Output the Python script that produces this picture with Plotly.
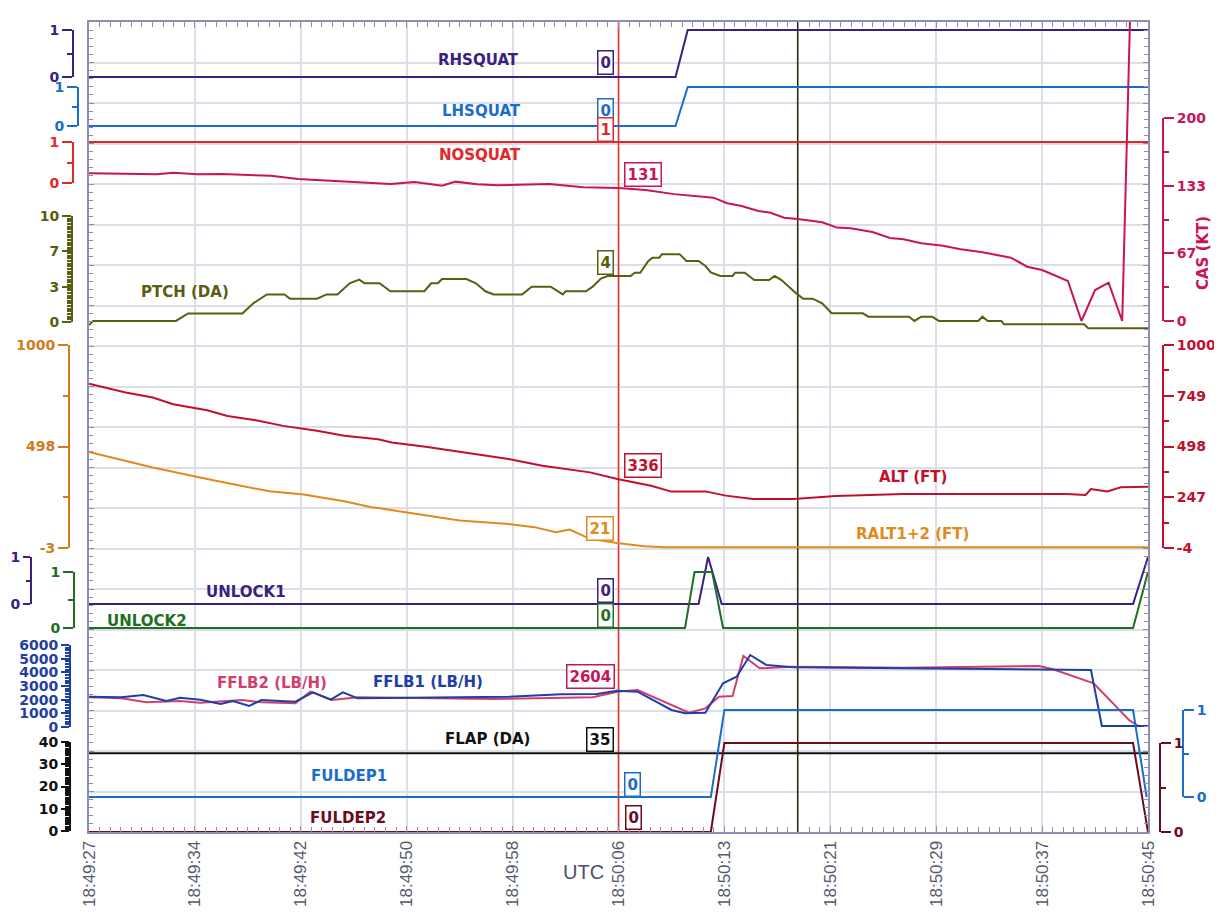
import plotly.graph_objects as go

# ---------------- canvas / frame geometry (screen pixels) ----------------
W, H = 1222, 918
OFF = 8                      # page body margin in the browser
FW, FH = W - OFF, H - OFF    # figure size
PL, PR, PT, PB = 89, 1148, 22, 832   # plot frame in screen pixels


def xp(px):
    return (px - OFF) / FW


def yp(py):
    return (PB - py) / (PB - PT)


# ---------------- time axis ----------------
TIME_LABELS = ["18:49:27", "18:49:34", "18:49:42", "18:49:50", "18:49:58", "18:50:06",
               "18:50:13", "18:50:21", "18:50:29", "18:50:37", "18:50:45"]
SPAN = 78.0  # seconds from 18:49:27 to 18:50:45
TICK_STEP = SPAN / 10
CURSOR_RED = 39.0     # 18:50:06
CURSOR_BLACK = 52.2

# ---------------- data (seconds since 18:49:27) ----------------
SQUAT_T = [0, 43.2, 44.1, 78]
RHSQUAT = [0, 0, 1, 1]
LHSQUAT = [0, 0, 1, 1]
NOSQUAT_T = [0, 78]
NOSQUAT = [1, 1]

CAS_T = [0, 5, 6.2, 8, 9.8, 13.4, 15.4, 18.2, 20.2, 22.2, 24, 26, 27, 28.6, 30.1, 33.9, 36.4, 39,
         41, 43.1, 46, 47, 48, 49.3, 50.2, 51.2, 52.2, 54, 55.1, 56.1, 57.7, 59, 60, 61.3, 62.9,
         64.2, 65.7, 67, 67.9, 69.1, 70.2, 71.2, 72.1, 73.1, 74.1, 75.1, 76.1, 76.7]
CAS = [145.5, 144.5, 146, 144.5, 144.8, 143, 140, 138.2, 136.3, 135, 137, 133.3, 137.3, 134.7,
       133.7, 135, 131.7, 131, 129, 125, 121.5, 116, 113.6, 108.4, 106.7, 101.8, 100.5, 97.2, 92,
       91.3, 87.7, 81.8, 80.5, 76.6, 74.2, 70.6, 68, 65, 62.4, 53.5, 50.2, 44.6, 39.4, 0, 30.5,
       37.7, 0, 310]

PTCH_T = [0, 0.3, 6.4, 6.9, 7.3, 11.3, 12.1, 13.1, 14.4, 14.8, 16.8, 17.5, 18.3, 19.2, 19.9,
          20.3, 21.4, 22.2, 24.7, 25.2, 25.7, 26.0, 27.8, 28.5, 29.2, 29.8, 31.9, 32.6, 34.0,
          34.9, 35.1, 36.6, 37.1, 37.7, 38.2, 39.9, 40.2, 40.6, 41.2, 41.5, 42.0, 42.2, 43.5,
          44.0, 44.9, 45.4, 45.8, 46.5, 47.4, 47.6, 48.3, 49.0, 50.1, 50.5, 51.0, 52.1, 52.6,
          53.3, 54.0, 54.7, 57.0, 57.4, 60.4, 60.8, 61.3, 62.1, 62.6, 65.5, 65.8, 66.2, 67.2,
          67.4, 73.3, 73.6, 78]
PTCH = [-0.3, 0.1, 0.1, 0.5, 0.8, 0.8, 1.76, 2.6, 2.6, 2.2, 2.2, 2.6, 2.6, 3.65, 4.0,
        3.65, 3.65, 2.9, 2.9, 3.65, 3.65, 4.05, 4.05, 3.65, 2.9, 2.6, 2.6, 3.33, 3.33,
        2.6, 2.9, 2.9, 3.33, 4.1, 4.34, 4.34, 4.65, 4.65, 5.75, 6.07, 6.07, 6.4, 6.4,
        5.75, 5.75, 5.28, 4.68, 4.34, 4.34, 4.65, 4.65, 3.96, 3.96, 4.34, 3.96, 2.7, 2.2,
        2.2, 1.76, 0.82, 0.82, 0.5, 0.5, 0.1, 0.5, 0.5, 0.1, 0.1, 0.5, 0.1, 0.1,
        -0.22, -0.22, -0.6, -0.6]

ALT_T = [0, 2.7, 4.7, 6.2, 8.7, 10.2, 12.3, 14.3, 16.8, 18.8, 21.3, 22.3, 24.8, 27.8, 30.9,
         33.4, 36.9, 39, 41.4, 42.9, 45.4, 46.9, 48.9, 51.9, 53.9, 55, 60, 65, 72, 73.4, 73.8,
         75, 76, 78]
ALT = [808, 765, 740, 707, 677, 649, 628, 600, 576, 551, 534, 518, 497, 468, 436, 403, 370, 336,
       304, 275, 276, 255, 238, 238, 247, 253, 263, 263, 263, 258, 288, 276, 296, 299]

RALT_T = [0, 4.7, 8.7, 13.3, 15.8, 18.8, 20.8, 21.3, 23.3, 27.3, 30.9, 32.8, 34.4, 35.4, 36.9,
          39, 40.9, 42.4, 78]
RALT = [472, 395, 338, 277, 261, 228, 198, 195, 174, 133, 116, 100, 75, 88, 42, 21, 6, 1, 1]

UNLOCK1_T = [0, 44.9, 45.6, 46.6, 76.9, 78]
UNLOCK1 = [0, 0, 1, 0, 0, 1]
UNLOCK2_T = [0, 43.9, 44.6, 45.9, 46.7, 76.9, 78]
UNLOCK2 = [0, 0, 1, 1, 0, 0, 1]

FFLB1_T = [0, 2.4, 4, 5.7, 6.7, 8.2, 9.7, 10.6, 11.8, 12.7, 15.2, 16.5, 17.8, 18.7, 19.8, 24.8,
           30.9, 34.8, 37.4, 38.9, 40.4, 42.9, 43.9, 45.4, 46.7, 47.7, 48.7, 49.9, 51.9, 60, 70,
           73.8, 74.6, 78]
FFLB1 = [2218, 2173, 2340, 1902, 2146, 2000, 1683, 1902, 1536, 1975, 1853, 2539, 2000, 2539,
         2097, 2170, 2218, 2390, 2415, 2656, 2585, 1244, 1000, 1050, 3195, 3683, 5268, 4537,
         4366, 4293, 4220, 4170, 73, 73]
FFLB2_T = [0, 2.4, 4.2, 6.7, 8.2, 11.3, 12.7, 15.2, 16.3, 17.9, 19.8, 29.8, 37.1, 39, 40.4, 43.4,
           44.2, 45.4, 46.4, 47.4, 48.2, 49.4, 51.9, 60, 70, 71, 74, 76.6, 77.3, 78]
FFLB2 = [2170, 2097, 1805, 1902, 1780, 1975, 1805, 1731, 2585, 1975, 2170, 2048, 2170, 2604, 2700,
         1365, 1050, 1365, 2218, 2270, 5195, 4293, 4415, 4340, 4463, 4220, 3195, 512, 73, 73]

FLAP_T = [0, 78]
FLAP = [35, 35]
FULDEP1_T = [0, 45.8, 46.8, 76.9, 77.9]
FULDEP1 = [0, 0, 1, 1, 0]
FULDEP2_T = [0, 45.8, 46.8, 76.9, 78]
FULDEP2 = [0, 0, 1, 1, 0]

# ---------------- colours ----------------
PURPLE = "#3b2080"
BLUE = "#1a6dcc"
RED = "#e0282a"
CRIMSON = "#c8155a"
OLIVE = "#5c5c12"
ORANGE = "#e08a1e"
ORANGE_AX = "#d27a1c"
ALTRED = "#c0102e"
GREEN = "#1f6e23"
FFBLUE = "#1e3fa6"
FFPINK = "#d23f6e"
BLACK = "#111111"
MAROON = "#6a0c1e"
FRAME = "#8c8fae"
GRID = "#dcdfe9"
FONT = "DejaVu Sans"


def frange(a, b, s):
    out, v = [], a
    while v <= b + 1e-9:
        out.append(round(v, 6))
        v += s
    return out


# axis key: band = (v_lo, v_hi, py_lo, py_hi)
AXES = {
    "rh": dict(band=(0, 1, 77, 30), side="left", pos=73, color=PURPLE, tv=[0, 1], minor=[0.5], tl=10),
    "lh": dict(band=(0, 1, 126, 87), side="left", pos=78, color=BLUE, tv=[0, 1], minor=[0.5], tl=10),
    "no": dict(band=(0, 1, 183, 142), side="left", pos=73, color=RED, tv=[0, 1], minor=[0.5], tl=10),
    "cas": dict(band=(0, 200, 321, 118), side="right", pos=1163, color=CRIMSON,
                tv=[0, 200 / 3, 400 / 3, 200], tt=["0", "67", "133", "200"],
                minor=[100 / 3, 100, 500 / 3], tl=10),
    "ptch": dict(band=(0, 10, 322, 216), side="left", pos=72, color=OLIVE,
                 tv=[0, 10 / 3, 20 / 3, 10], tt=["0", "3", "7", "10"], minor=frange(0, 10, 0.25), tl=9),
    "ralt": dict(band=(-3, 1000, 548, 345), side="left", pos=69, color=ORANGE_AX,
                 tv=[-3, 498.5, 1000], tt=["-3", "498", "1000"], minor=[247.75, 749.25], tl=10),
    "alt": dict(band=(-4, 1000, 548, 345), side="right", pos=1163, color=ALTRED,
                tv=[-4, 247, 498, 749, 1000], minor=[121.5, 372.5, 623.5, 874.5], tl=10),
    "ul1": dict(band=(0, 1, 604, 557), side="left", pos=31, color=PURPLE, tv=[0, 1], minor=[0.5], tl=7),
    "ul2": dict(band=(0, 1, 628, 572), side="left", pos=74, color=GREEN, tv=[0, 1], minor=[0.5], tl=10),
    "ff": dict(band=(0, 6000, 727, 645), side="left", pos=70, color=FFBLUE,
               tv=frange(0, 6000, 1000), minor=frange(0, 6000, 200), tl=8),
    "flap": dict(band=(0, 40, 831, 742), side="left", pos=70, color=BLACK,
                 tv=frange(0, 40, 10), minor=frange(0, 40, 1), tl=8),
    "fd1": dict(band=(0, 1, 797, 710), side="right", pos=1183, color=BLUE, tv=[0, 1], minor=[0.5], tl=10),
    "fd2": dict(band=(0, 1, 832, 743), side="right", pos=1160, color=MAROON, tv=[0, 1], minor=[0.5], tl=10),
}

SERIES = [
    ("RHSQUAT", "rh", SQUAT_T, RHSQUAT, PURPLE),
    ("LHSQUAT", "lh", SQUAT_T, LHSQUAT, BLUE),
    ("NOSQUAT", "no", NOSQUAT_T, NOSQUAT, RED),
    ("PTCH (DA)", "ptch", PTCH_T, PTCH, OLIVE),
    ("RALT1+2 (FT)", "ralt", RALT_T, RALT, ORANGE),
    ("ALT (FT)", "alt", ALT_T, ALT, ALTRED),
    ("CAS (KT)", "cas", CAS_T, CAS, CRIMSON),
    ("UNLOCK1", "ul1", UNLOCK1_T, UNLOCK1, PURPLE),
    ("UNLOCK2", "ul2", UNLOCK2_T, UNLOCK2, GREEN),
    ("FFLB2 (LB/H)", "ff", FFLB2_T, FFLB2, FFPINK),
    ("FFLB1 (LB/H)", "ff", FFLB1_T, FFLB1, FFBLUE),
    ("FLAP (DA)", "flap", FLAP_T, FLAP, BLACK),
    ("FULDEP1", "fd1", FULDEP1_T, FULDEP1, BLUE),
    ("FULDEP2", "fd2", FULDEP2_T, FULDEP2, MAROON),
]

fig = go.Figure()
layout = {}

XDOM = [xp(PL), xp(PR)]
# base (grid/frame) axes
layout["xaxis"] = dict(
    domain=XDOM, range=[0, SPAN], anchor="y", automargin=False,
    tickmode="array", tickvals=[i * TICK_STEP for i in range(11)], ticktext=TIME_LABELS,
    tickangle=-90, tickfont=dict(family="Liberation Sans", size=17, color="#555a6e"),
    showgrid=True, gridcolor=GRID, gridwidth=1.5, zeroline=False,
    showline=True, linecolor=FRAME, linewidth=2, mirror="ticks",
    ticks="inside", ticklen=6, tickcolor=FRAME, tickwidth=1,
    minor=dict(dtick=TICK_STEP / 10, tick0=0, ticklen=5, tickcolor=FRAME, ticks="inside", showgrid=False),
    fixedrange=True,
)
# invisible x axis used only to host the band (bracket) axes
layout["xaxis2"] = dict(domain=XDOM, range=[0, SPAN], anchor="free", position=0,
                        visible=False, showgrid=False, fixedrange=True, automargin=False)
layout["yaxis"] = dict(
    domain=[0, 1], range=[0, 20], anchor="x", dtick=1, tick0=0, automargin=False,
    showgrid=True, gridcolor=GRID, gridwidth=1.5, zeroline=False,
    showline=True, linecolor=FRAME, linewidth=2, mirror="ticks",
    ticks="inside", ticklen=5, tickcolor=FRAME, showticklabels=False,
    minor=dict(dtick=0.2, tick0=0, ticklen=4, tickcolor=FRAME, ticks="inside", showgrid=False),
    fixedrange=True,
)

n = 2
data_axis = {}
for key, a in AXES.items():
    v_lo, v_hi, py_lo, py_hi = a["band"]
    k = (v_hi - v_lo) / (py_lo - py_hi)
    # invisible full-height data axis with the same scale as the band
    did = n
    n += 1
    layout[f"yaxis{did}"] = dict(
        overlaying="y", visible=False, fixedrange=True, automargin=False,
        range=[v_lo - (PB - py_lo) * k, v_hi + (py_hi - PT) * k],
    )
    data_axis[key] = f"y{did}"
    # visible bracket axis on the band
    vid = n
    n += 1
    layout[f"yaxis{vid}"] = dict(
        domain=[yp(py_lo), yp(py_hi)], range=[v_lo, v_hi], anchor="free",
        position=xp(a["pos"]), side=a["side"], fixedrange=True, automargin=False,
        showgrid=False, zeroline=False, showline=True, linecolor=a["color"], linewidth=2,
        ticks="outside", ticklen=a["tl"], tickwidth=2, tickcolor=a["color"],
        tickmode="array", tickvals=a["tv"], ticktext=a.get("tt", [str(v) for v in a["tv"]]),
        tickfont=dict(family=FONT, size=14, color=a["color"], weight="bold"),
        minor=dict(tickmode="array", tickvals=a["minor"], ticks="outside",
                   ticklen=max(4, a["tl"] // 2), tickwidth=1.5, tickcolor=a["color"], showgrid=False),
    )
    fig.add_trace(go.Scatter(x=[None], y=[None], xaxis="x2", yaxis=f"y{vid}",
                             showlegend=False, hoverinfo="skip"))

for name, key, t, v, color in SERIES:
    fig.add_trace(go.Scatter(x=t, y=v, mode="lines", name=name, xaxis="x", yaxis=data_axis[key],
                             line=dict(color=color, width=2), showlegend=False))

# cursors
MARK_OFF = 5 / ((PB - PT) / 20)
for tc, col in [(CURSOR_RED, "#e23b36"), (CURSOR_BLACK, "#2e2a10")]:
    fig.add_trace(go.Scatter(x=[tc, tc], y=[0, 20], mode="lines", xaxis="x", yaxis="y",
                             line=dict(color=col, width=1.6), showlegend=False, hoverinfo="skip"))
    fig.add_trace(go.Scatter(x=[tc, tc], y=[20 + MARK_OFF, -MARK_OFF], mode="markers",
                             xaxis="x", yaxis="y", cliponaxis=False,
                             marker=dict(symbol=["triangle-down", "triangle-up"], size=9, color=col),
                             showlegend=False, hoverinfo="skip"))

# labels
LABELS = [
    ("RHSQUAT", 478, 60, PURPLE), ("LHSQUAT", 481, 111, BLUE), ("NOSQUAT", 480, 155, RED),
    ("PTCH (DA)", 185, 292, OLIVE), ("ALT (FT)", 913, 477, ALTRED),
    ("RALT1+2 (FT)", 912, 534, ORANGE), ("UNLOCK1", 246, 592, PURPLE),
    ("UNLOCK2", 147, 621, GREEN), ("FFLB2 (LB/H)", 272, 683, FFPINK),
    ("FFLB1 (LB/H)", 428, 682, FFBLUE), ("FLAP (DA)", 487, 739, BLACK),
    ("FULDEP1", 349, 776, BLUE), ("FULDEP2", 348, 818, MAROON),
]
BOXES = [
    ("0", 605, 62, PURPLE), ("0", 605, 111, BLUE), ("1", 605, 130, RED),
    ("131", 643, 174, CRIMSON), ("4", 605, 262, OLIVE), ("336", 643, 465, ALTRED),
    ("21", 600, 528, ORANGE), ("0", 605, 590, PURPLE), ("0", 605, 615, GREEN),
    ("2604", 590, 676, CRIMSON), ("35", 600, 739, BLACK), ("0", 632, 784, BLUE),
    ("0", 633, 817, MAROON),
]
ann = []
for txt, x, y, c in LABELS:
    ann.append(dict(text=txt, x=xp(x), y=yp(y), xref="paper", yref="paper", showarrow=False,
                    xanchor="center", yanchor="middle",
                    font=dict(family=FONT, size=15, color=c, weight="bold")))
for txt, x, y, c in BOXES:
    ann.append(dict(text=txt, x=xp(x), y=yp(y), xref="paper", yref="paper", showarrow=False,
                    xanchor="center", yanchor="middle", bgcolor="white",
                    bordercolor=c, borderwidth=1.5, borderpad=2,
                    font=dict(family=FONT, size=15, color=c, weight="bold")))
ann.append(dict(text="CAS (KT)", x=xp(1203), y=yp(253), xref="paper", yref="paper",
                showarrow=False, textangle=-90, xanchor="center", yanchor="middle",
                font=dict(family=FONT, size=15, color=CRIMSON, weight="bold")))
ann.append(dict(text="UTC", x=xp(583), y=yp(872), xref="paper", yref="paper",
                showarrow=False, xanchor="center", yanchor="middle",
                font=dict(family="Liberation Sans", size=20, color="#4a4f6a")))

fig.update_layout(
    template="none",
    width=FW, height=FH,
    margin=dict(l=0, r=0, t=PT - OFF, b=FH - (PB - OFF), autoexpand=False),
    paper_bgcolor="white", plot_bgcolor="rgba(0,0,0,0)",
    showlegend=False, annotations=ann, **layout,
)

fig.write_html("out.html")
